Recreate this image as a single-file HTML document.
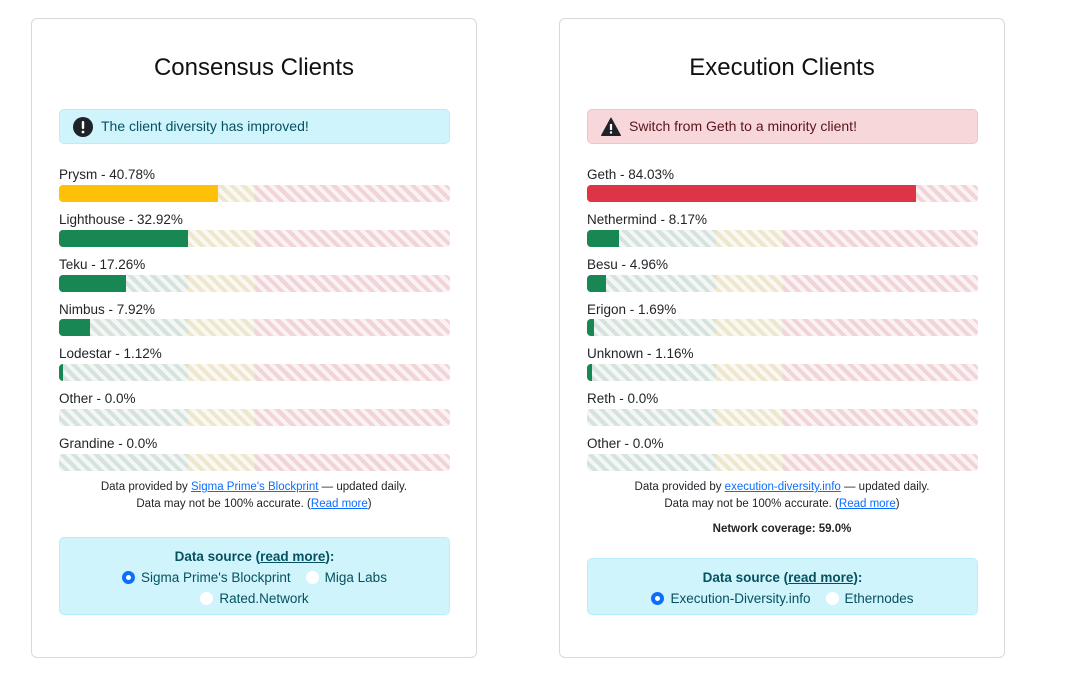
<!DOCTYPE html>
<html><head><meta charset="utf-8"><style>
*{box-sizing:border-box;margin:0;padding:0}
body{width:1080px;height:688px;background:#fff;font-family:"Liberation Sans",Arial,sans-serif;color:#212529;position:relative;overflow:hidden}
.card{position:absolute;top:18px;width:446px;height:640px;border:1px solid #d9d9d9;border-radius:6px;background:#fff}
.t{position:absolute;left:0;right:0;top:35px;text-align:center;font-size:24px;color:#111}
.alert{position:absolute;left:27px;width:391px;top:90px;height:35px;border-radius:5px;font-size:14px;line-height:33px;padding-left:41px}
.info{background:#cff4fc;border:1px solid #b6effb;color:#055160}
.danger{background:#f8d7da;border:1px solid #f5c2c7;color:#58151c}
.ic{position:absolute;left:13px;top:7px;width:20px;height:20px}
.lbl{position:absolute;left:27px;font-size:13.5px;color:#212529}
.bar{position:absolute;left:27px;width:391px;height:17px;border-radius:4px;overflow:hidden;
background:linear-gradient(to right,#d6e3dd 0,#d6e3dd 33%,#eee7cf 33%,#eee7cf 50%,#f1d4d8 50%,#f1d4d8 100%)}
.bar:before{content:"";position:absolute;inset:0;background:repeating-linear-gradient(45deg,rgba(255,255,255,.7) 0 4px,transparent 4px 8px)}
.fill{position:absolute;left:0;top:0;bottom:0;z-index:1}
.foot{position:absolute;left:0;right:0;text-align:center;font-size:11.5px;line-height:17px;color:#212529}
a{color:#0d6efd;text-decoration:underline}
.ds{position:absolute;left:27px;width:391px;background:#cff4fc;border:1px solid #b6effb;border-radius:5px;text-align:center;color:#055160;font-size:13.5px;line-height:21px;padding-top:8px}
.ds b u{color:#055160}
.r{display:inline-block;width:13px;height:13px;border-radius:50%;background:#fff;vertical-align:-2px;margin-right:6px}
.r.on{border:4px solid #0d6efd}
</style></head><body>

<div class="card" style="left:31px">
<div class="t">Consensus Clients</div>
<div class="alert info"><svg class="ic" viewBox="0 0 20 20"><circle cx="10" cy="10" r="10" fill="#1f2328"/><rect x="8.8" y="4" width="2.4" height="8" rx="1" fill="#fff"/><circle cx="10" cy="15" r="1.4" fill="#fff"/></svg>The client diversity has improved!</div>
<div class="lbl" style="top:148px">Prysm - 40.78%</div><div class="bar" style="top:166px"><div class="fill" style="width:40.78%;background:#ffc107"></div></div>
<div class="lbl" style="top:193px">Lighthouse - 32.92%</div><div class="bar" style="top:211px"><div class="fill" style="width:32.92%;background:#198754"></div></div>
<div class="lbl" style="top:238px">Teku - 17.26%</div><div class="bar" style="top:256px"><div class="fill" style="width:17.26%;background:#198754"></div></div>
<div class="lbl" style="top:283px">Nimbus - 7.92%</div><div class="bar" style="top:300px"><div class="fill" style="width:7.92%;background:#198754"></div></div>
<div class="lbl" style="top:327px">Lodestar - 1.12%</div><div class="bar" style="top:345px"><div class="fill" style="width:1.12%;background:#198754"></div></div>
<div class="lbl" style="top:372px">Other - 0.0%</div><div class="bar" style="top:390px"></div>
<div class="lbl" style="top:417px">Grandine - 0.0%</div><div class="bar" style="top:435px"></div>
<div class="foot" style="top:460px">Data provided by <a>Sigma Prime's Blockprint</a> — updated daily.<br>Data may not be 100% accurate. (<a>Read more</a>)</div>
<div class="ds" style="top:518px;height:78px"><b>Data source (<u>read more</u>):</b><br><span class="r on"></span>Sigma Prime's Blockprint &nbsp;&nbsp;&nbsp;<span class="r"></span>Miga Labs<br><span class="r"></span>Rated.Network</div>
</div>

<div class="card" style="left:559px">
<div class="t">Execution Clients</div>
<div class="alert danger"><svg class="ic" viewBox="0 0 20 20"><path d="M10 1 L19.5 18.5 H0.5 Z" fill="#1f2328" stroke="#1f2328" stroke-linejoin="round" stroke-width="1"/><rect x="8.9" y="7" width="2.2" height="6" fill="#fff"/><circle cx="10" cy="15.5" r="1.2" fill="#fff"/></svg>Switch from Geth to a minority client!</div>
<div class="lbl" style="top:148px">Geth - 84.03%</div><div class="bar" style="top:166px"><div class="fill" style="width:84.03%;background:#dc3545"></div></div>
<div class="lbl" style="top:193px">Nethermind - 8.17%</div><div class="bar" style="top:211px"><div class="fill" style="width:8.17%;background:#198754"></div></div>
<div class="lbl" style="top:238px">Besu - 4.96%</div><div class="bar" style="top:256px"><div class="fill" style="width:4.96%;background:#198754"></div></div>
<div class="lbl" style="top:283px">Erigon - 1.69%</div><div class="bar" style="top:300px"><div class="fill" style="width:1.69%;background:#198754"></div></div>
<div class="lbl" style="top:327px">Unknown - 1.16%</div><div class="bar" style="top:345px"><div class="fill" style="width:1.16%;background:#198754"></div></div>
<div class="lbl" style="top:372px">Reth - 0.0%</div><div class="bar" style="top:390px"></div>
<div class="lbl" style="top:417px">Other - 0.0%</div><div class="bar" style="top:435px"></div>
<div class="foot" style="top:460px">Data provided by <a>execution-diversity.info</a> — updated daily.<br>Data may not be 100% accurate. (<a>Read more</a>)</div>
<div class="foot" style="top:502px;font-weight:bold">Network coverage: 59.0%</div>
<div class="ds" style="top:539px;height:57px"><b>Data source (<u>read more</u>):</b><br><span class="r on"></span>Execution-Diversity.info &nbsp;&nbsp;&nbsp;<span class="r"></span>Ethernodes</div>
</div>
</body></html>
